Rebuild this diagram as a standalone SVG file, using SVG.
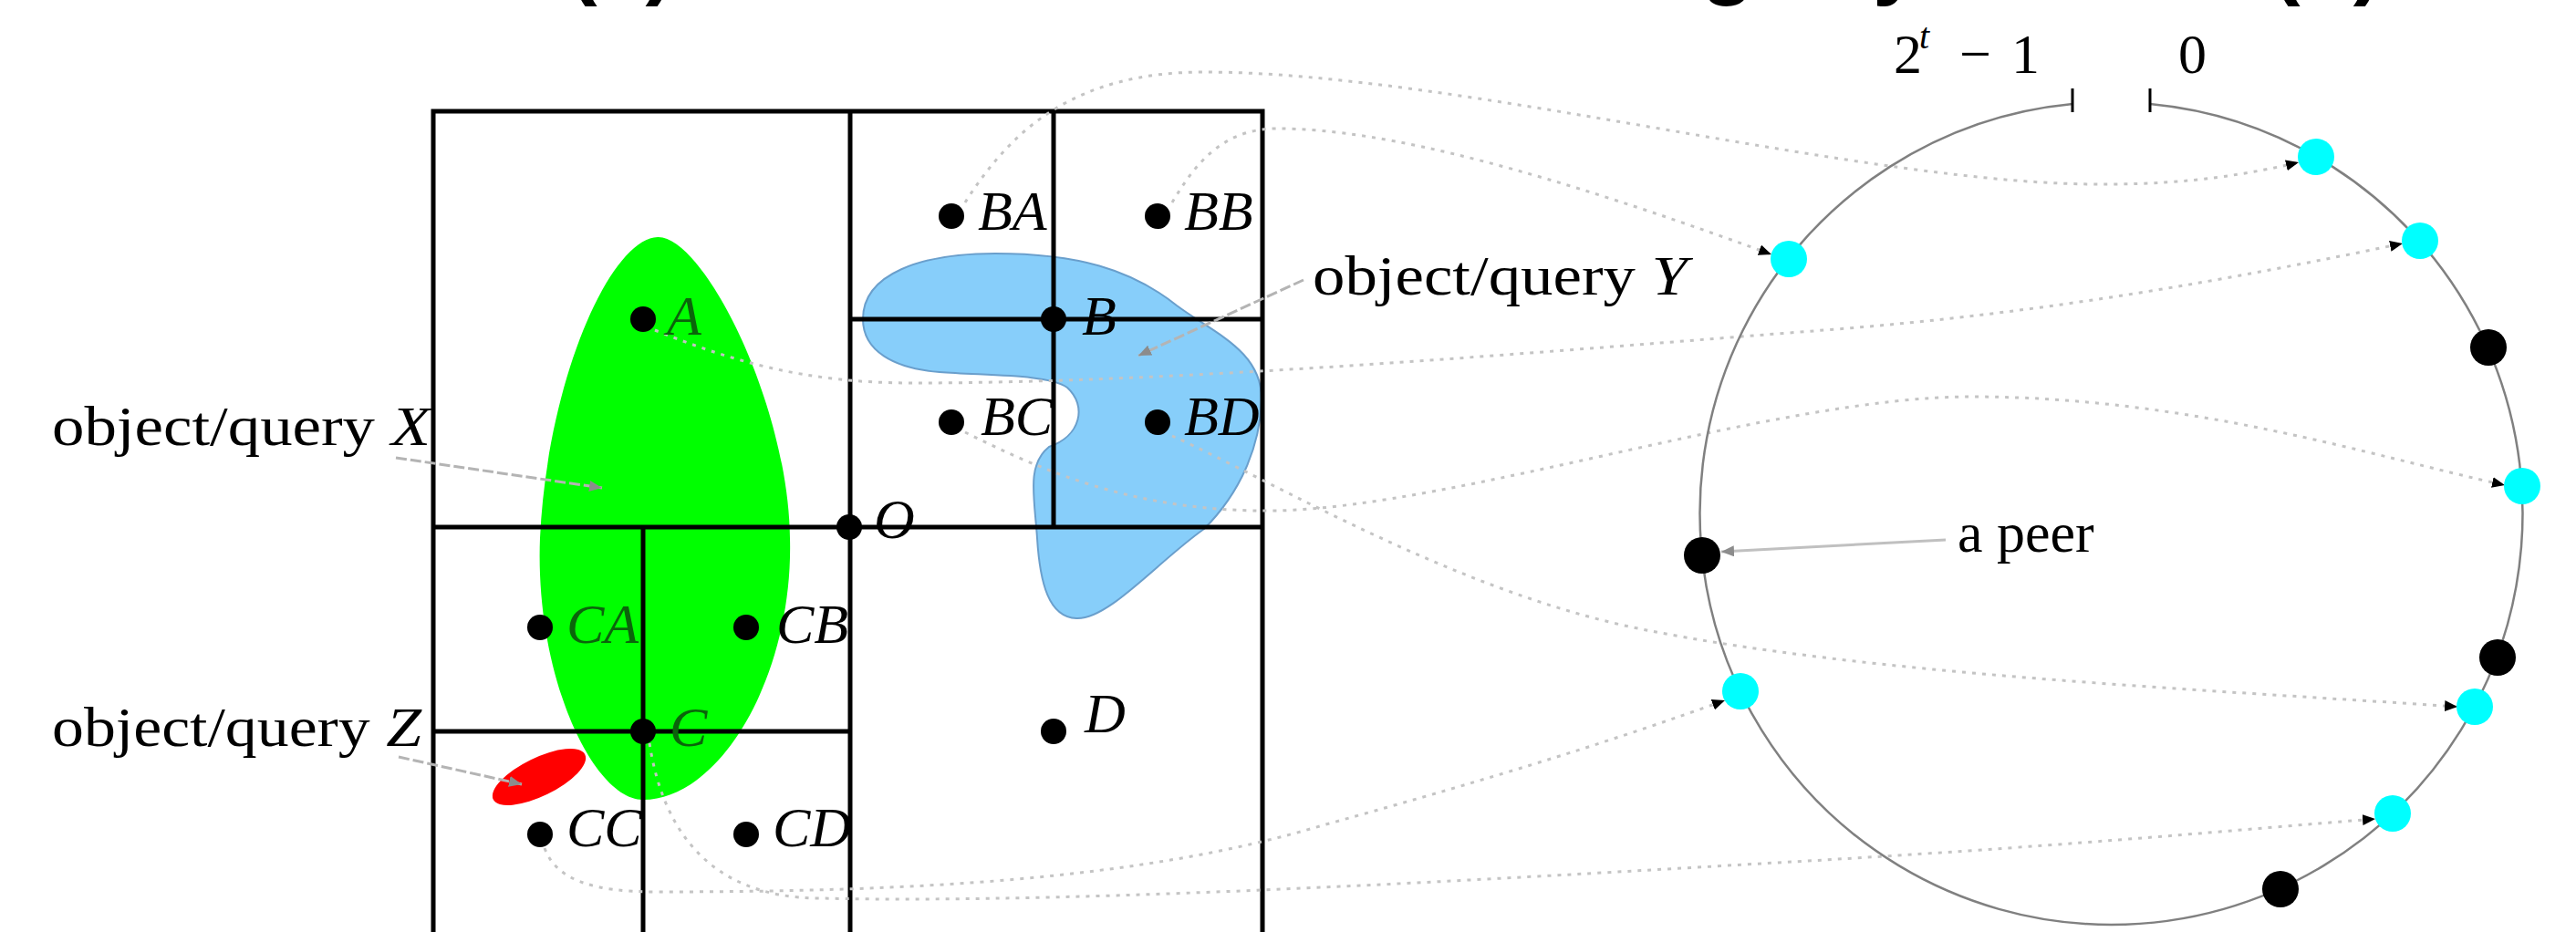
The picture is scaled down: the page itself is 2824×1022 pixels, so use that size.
<svg xmlns="http://www.w3.org/2000/svg" width="2824" height="1022" viewBox="0 0 2824 1022">
<style>
.grid{stroke:#000;stroke-width:5;fill:none;stroke-linecap:square}
.dot{fill:#000}
.lbl{font-family:"Liberation Serif","Times New Roman",serif;font-size:62px;font-style:italic;fill:#000}
.lblg{font-family:"Liberation Serif","Times New Roman",serif;font-size:62px;font-style:italic;fill:#0b640b}
.txt{font-family:"Liberation Serif","Times New Roman",serif;font-size:62px;fill:#000}
.map{fill:none;stroke:#c4c4c4;stroke-width:3;stroke-dasharray:4 7;marker-end:url(#ah)}
.ptr{fill:none;stroke:#b4b4b4;stroke-width:3;stroke-dasharray:12 4;marker-end:url(#ahg)}
.ptrs{fill:none;stroke:#c0c0c0;stroke-width:3;marker-end:url(#ahg)}
.ring{fill:none;stroke:#808080;stroke-width:2.5}
.tick{stroke:#000;stroke-width:3}
.peer{fill:#000}
.hit{fill:#00ffff}
.title{font-family:"Liberation Sans",Arial,sans-serif;font-weight:bold;font-size:95px;fill:#000}
</style>
<defs>
<marker id="ah" markerUnits="userSpaceOnUse" markerWidth="14" markerHeight="12" refX="14" refY="6" orient="auto"><path d="M0,0 L14,6 L0,12 z" fill="#000"/></marker>
<marker id="ahg" markerUnits="userSpaceOnUse" markerWidth="14" markerHeight="12" refX="14" refY="6" orient="auto"><path d="M0,0 L14,6 L0,12 z" fill="#8c8c8c"/></marker>
</defs>

<g id="title-fragments">
<text class="title" x="623" y="-13">(a)</text>
<text class="title" x="1865" y="-13">g</text>
<text class="title" x="2053" y="-13">y</text>
<text class="title" x="2490" y="-13">(b)</text>
</g>

<g id="object-Z">
<ellipse cx="591" cy="852" rx="56" ry="21" transform="rotate(-26 591 852)" fill="#ff0000"/>
<text class="txt" x="57" y="818" textLength="405" lengthAdjust="spacingAndGlyphs">object/query <tspan font-style="italic">Z</tspan></text>
</g>
<g id="object-X">
<path d="M721,260 C668,262 600,420 592,590 C586,740 650,877 705,877 C790,877 870,740 866,590 C864,440 770,258 721,260 Z" fill="#00ff00"/>
<text class="txt" x="57" y="488" textLength="415" lengthAdjust="spacingAndGlyphs">object/query <tspan font-style="italic">X</tspan></text>
</g>
<g id="object-Y">
<path d="M946,350 C946,300 1010,278 1091,278 C1180,278 1240,295 1290,335 C1330,365 1385,385 1383,440 C1381,490 1360,540 1320,580 C1270,615 1215,680 1180,678 C1150,677 1140,640 1137,590 C1134,545 1125,510 1150,490 C1185,478 1192,445 1170,425 C1150,410 1080,412 1030,408 C980,404 946,385 946,350 Z" fill="#87cefa" stroke="#6a9fcc" stroke-width="2"/>
<text class="txt" x="1439" y="323" textLength="411" lengthAdjust="spacingAndGlyphs">object/query <tspan font-style="italic">Y</tspan></text>
</g>

<g id="grid">
<path class="grid" d="M475,122 H1384 M475,122 V1030 M1384,122 V1030 M932,122 V1030 M475,578 H1384 M1155,122 V578 M932,350 H1384 M705,578 V1030 M475,802 H932"/>
</g>

<g id="connectors">
<path class="map" d="M1058,222 C1110,140 1180,79 1320,79 C1600,79 2050,205 2312,202 C2400,202 2470,190 2520,178"/>
<path class="map" d="M1285,222 C1310,180 1340,141 1400,141 C1520,141 1700,190 1942,279"/>
<path class="map" d="M718,362 C800,395 880,420 1000,420 C1300,420 1700,385 2000,362 C2250,343 2450,305 2634,267"/>
<path class="map" d="M1058,474 C1150,520 1250,562 1400,560 C1600,555 1950,435 2160,435 C2400,435 2600,500 2746,532"/>
<path class="map" d="M1285,478 C1400,530 1600,650 1800,690 C2050,740 2400,755 2694,775"/>
<path class="map" d="M597,930 C610,965 650,978 720,978 C1000,978 1250,965 1450,905 C1650,850 1780,808 1891,768"/>
<path class="map" d="M712,815 C725,900 770,985 900,985 C1200,992 1700,960 2000,943 C2300,925 2450,910 2604,898"/>
<path class="ptr" d="M434,502 L660,535"/>
<path class="ptr" d="M1429,307 L1248,390"/>
<path class="ptr" d="M437,830 L572,860"/>
<path class="ptrs" d="M2133,592 L1887,605"/>
</g>

<g id="pt-A"><circle class="dot" cx="705" cy="350" r="14"/><text class="lblg" x="731" y="367">A</text></g>
<g id="pt-B"><circle class="dot" cx="1155" cy="350" r="14"/><text class="lbl" x="1186" y="367">B</text></g>
<g id="pt-BA"><circle class="dot" cx="1043" cy="237" r="14"/><text class="lbl" x="1072" y="252">BA</text></g>
<g id="pt-BB"><circle class="dot" cx="1269" cy="237" r="14"/><text class="lbl" x="1298" y="252">BB</text></g>
<g id="pt-BC"><circle class="dot" cx="1043" cy="463" r="14"/><text class="lbl" x="1075" y="477">BC</text></g>
<g id="pt-BD"><circle class="dot" cx="1269" cy="463" r="14"/><text class="lbl" x="1298" y="477">BD</text></g>
<g id="pt-O"><circle class="dot" cx="931" cy="578" r="14"/><text class="lbl" x="958" y="590">O</text></g>
<g id="pt-CA"><circle class="dot" cx="592" cy="688" r="14"/><text class="lblg" x="621" y="705">CA</text></g>
<g id="pt-CB"><circle class="dot" cx="818" cy="688" r="14"/><text class="lbl" x="851" y="705">CB</text></g>
<g id="pt-C"><circle class="dot" cx="705" cy="802" r="14"/><text class="lblg" x="734" y="818">C</text></g>
<g id="pt-CC"><circle class="dot" cx="592" cy="915" r="14"/><text class="lbl" x="621" y="928">CC</text></g>
<g id="pt-CD"><circle class="dot" cx="818" cy="915" r="14"/><text class="lbl" x="847" y="928">CD</text></g>
<g id="pt-D"><circle class="dot" cx="1155" cy="802" r="14"/><text class="lbl" x="1189" y="803">D</text></g>

<g id="ring">
<path class="ring" d="M2272,114 A451,451 0 1 0 2357,114"/>
<line class="tick" x1="2272" y1="97" x2="2272" y2="123"/>
<line class="tick" x1="2357" y1="97" x2="2357" y2="123"/>
<text class="txt" font-size="60" x="2076" y="80">2<tspan x="2104" y="53" font-size="40" font-style="italic">t</tspan><tspan x="2148" y="80">−</tspan><tspan x="2205" y="80">1</tspan></text>
<text class="txt" font-size="60" x="2388" y="80">0</text>
</g>

<g id="peer-a"><circle class="peer" cx="1866" cy="609" r="20"/><text class="txt" x="2146" y="605">a peer</text></g>
<g id="peer-1"><circle class="hit" cx="1961" cy="284" r="20"/></g>
<g id="peer-2"><circle class="hit" cx="2539" cy="172" r="20"/></g>
<g id="peer-3"><circle class="hit" cx="2653" cy="264" r="20"/></g>
<g id="peer-4"><circle class="peer" cx="2728" cy="381" r="20"/></g>
<g id="peer-5"><circle class="hit" cx="2765" cy="533" r="20"/></g>
<g id="peer-6"><circle class="peer" cx="2738" cy="721" r="20"/></g>
<g id="peer-7"><circle class="hit" cx="2713" cy="775" r="20"/></g>
<g id="peer-8"><circle class="hit" cx="2623" cy="892" r="20"/></g>
<g id="peer-9"><circle class="peer" cx="2500" cy="975" r="20"/></g>
<g id="peer-10"><circle class="hit" cx="1908" cy="758" r="20"/></g>
</svg>
